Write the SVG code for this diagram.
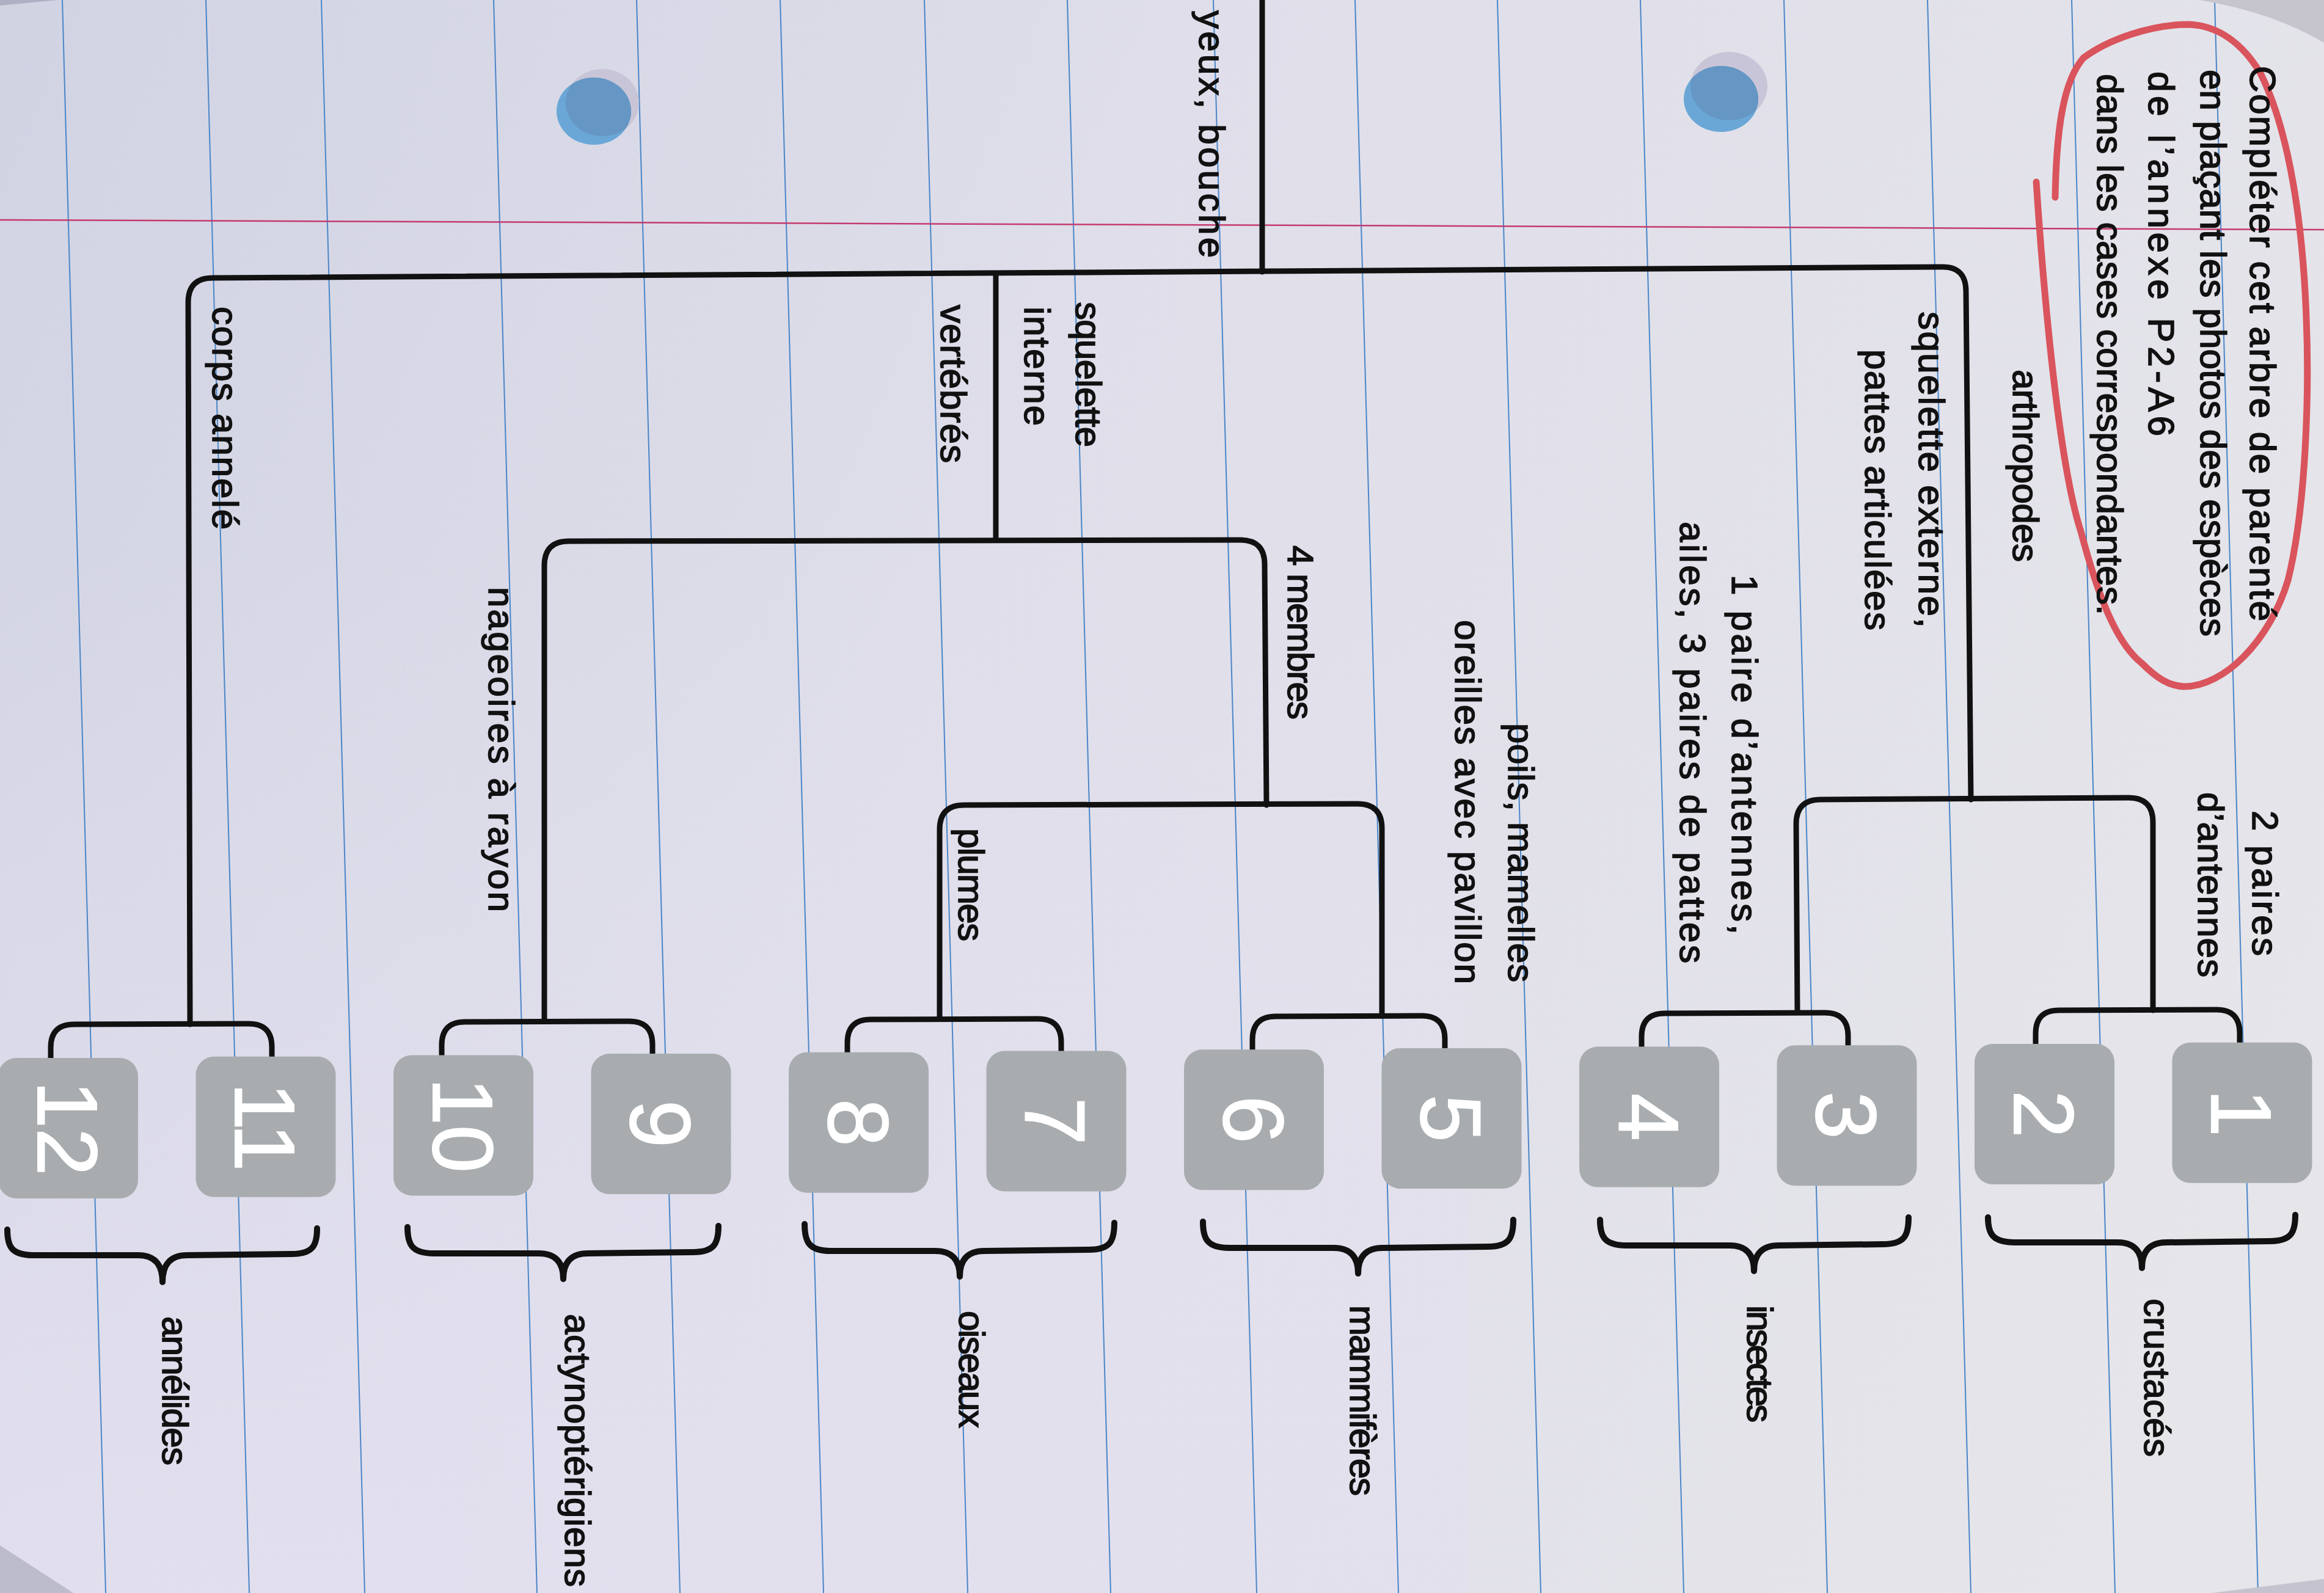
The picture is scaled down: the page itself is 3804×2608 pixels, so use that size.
<svg xmlns="http://www.w3.org/2000/svg" width="3804" height="2608" viewBox="0 0 3804 2608">
<defs>
<linearGradient id="paper" gradientUnits="userSpaceOnUse" x1="0" y1="0" x2="3804" y2="1600">
<stop offset="0" stop-color="#d1d3e3"/>
<stop offset="0.45" stop-color="#dfdeea"/>
<stop offset="1" stop-color="#e5e5ea"/>
</linearGradient>
<linearGradient id="lav" gradientUnits="userSpaceOnUse" x1="0" y1="900" x2="0" y2="2608">
<stop offset="0" stop-color="#e3e0ef" stop-opacity="0"/>
<stop offset="1" stop-color="#e3e0ef" stop-opacity="0.8"/>
</linearGradient>
<clipPath id="dot1"><ellipse cx="972" cy="182" rx="61" ry="55"/></clipPath>
<clipPath id="dot2"><ellipse cx="2817" cy="162" rx="61" ry="54"/></clipPath>
<style>
.ln{fill:none;stroke:#111;stroke-width:9;stroke-linecap:round;stroke-linejoin:round}
.br{fill:none;stroke:#111;stroke-width:10;stroke-linecap:round;stroke-linejoin:round}
.rule{stroke:#4a86c8;stroke-width:2}
.lbl{font-family:"Liberation Sans",Arial,sans-serif;font-size:60px;fill:#111;stroke:#111;stroke-width:1.6}
.num{font-family:"Liberation Sans",Arial,sans-serif;font-size:140px;fill:#fff;stroke:#fff;stroke-width:2;text-anchor:middle}
.box{fill:#a8acaf}
</style>
</defs>

<g id="paper-bg">
<rect x="0" y="0" width="3804" height="2608" fill="url(#paper)"/>
<rect x="0" y="900" width="2400" height="1708" fill="url(#lav)"/>
<g class="rule">
<line x1="102" y1="0" x2="173" y2="2608"/>
<line x1="337" y1="0" x2="408" y2="2608"/>
<line x1="526" y1="0" x2="597" y2="2608"/>
<line x1="808" y1="0" x2="879" y2="2608"/>
<line x1="1042" y1="0" x2="1113" y2="2608"/>
<line x1="1277" y1="0" x2="1348" y2="2608"/>
<line x1="1513" y1="0" x2="1584" y2="2608"/>
<line x1="1747" y1="0" x2="1818" y2="2608"/>
<line x1="1986" y1="0" x2="2057" y2="2608"/>
<line x1="2218" y1="0" x2="2289" y2="2608"/>
<line x1="2451" y1="0" x2="2522" y2="2608"/>
<line x1="2685" y1="0" x2="2756" y2="2608"/>
<line x1="2920" y1="0" x2="2991" y2="2608"/>
<line x1="3155" y1="0" x2="3226" y2="2608"/>
<line x1="3391" y1="0" x2="3462" y2="2608"/>
<line x1="3625" y1="0" x2="3696" y2="2608"/>
</g>
<line x1="0" y1="360" x2="3804" y2="376" stroke="#c43a6e" stroke-width="2.5"/>
<polygon points="0,0 95,0 0,9" fill="#aeb0c4"/>
<path d="M3600,0 L3804,0 L3804,70 Q3720,20 3600,0 Z" fill="#c6c5ce"/>
<polygon points="0,2530 0,2608 120,2608" fill="#bdbccc"/>
<polygon points="3620,2608 3804,2585 3804,2608" fill="#c4c3cf"/>
</g>

<g id="holes">
<ellipse cx="986" cy="168" rx="60" ry="55" fill="#c9c5d8"/>
<ellipse cx="972" cy="182" rx="61" ry="55" fill="#6aa7d6"/>
<ellipse cx="986" cy="168" rx="60" ry="55" fill="#6596c4" clip-path="url(#dot1)"/>
<ellipse cx="2830" cy="141" rx="63" ry="56" fill="#c9c5d8"/>
<ellipse cx="2817" cy="162" rx="61" ry="54" fill="#6aa7d6"/>
<ellipse cx="2830" cy="141" rx="63" ry="56" fill="#6596c4" clip-path="url(#dot2)"/>
</g>

<g id="instruction">
<path d="M3333,298 C3345,480 3370,760 3406,870 C3430,960 3460,1050 3506,1086 C3530,1110 3550,1123 3575,1124 C3640,1124 3715,1050 3745,950 C3775,830 3780,640 3775,520 C3770,380 3750,220 3700,120 C3670,70 3630,42 3583,40 C3520,40 3450,65 3410,95 C3380,130 3366,200 3364,323" fill="none" stroke="#d9545c" stroke-width="11" stroke-linecap="round"/>
<text class="lbl" transform="translate(3683,108) rotate(90)" textLength="909" lengthAdjust="spacing">Compléter cet arbre de parenté</text>
<text class="lbl" transform="translate(3602,114) rotate(90)" textLength="928" lengthAdjust="spacing">en plaçant les photos des espèces</text>
<text class="lbl" transform="translate(3517,117) rotate(90)" textLength="597" lengthAdjust="spacing">de l’annexe P2-A6</text>
<text class="lbl" transform="translate(3433,121) rotate(90)" textLength="886" lengthAdjust="spacing">dans les cases correspondantes.</text>
</g>

<g id="connectors">
<path class="ln" d="M2066,0 L2066,445"/>
<path class="ln" d="M311,1677 L308,495 Q308,455 348,455 L3180,437 Q3218,437 3218,477 L3226,1309"/>
<path class="ln" d="M1630,449 L1630,884"/>
<path class="ln" d="M891,1669 L891,926 Q891,886 931,886 L2030,884 Q2070,884 2070,924 L2073,1318"/>
<path class="ln" d="M1538,1666 L1538,1358 Q1538,1318 1578,1318 L2222,1316 Q2262,1316 2262,1356 L2262,1662"/>
<path class="ln" d="M2942,1656 L2940,1349 Q2940,1309 2980,1309 L3484,1306 Q3524,1306 3524,1346 L3524,1654"/>
<path class="ln" d="M83,1732 L83,1715 Q83,1677 121,1677 L407,1676 Q445,1676 445,1714 L445,1730"/>
<path class="ln" d="M723,1728 L723,1711 Q723,1673 761,1673 L1030,1672 Q1068,1672 1068,1710 L1068,1725"/>
<path class="ln" d="M1387,1723 L1387,1707 Q1387,1669 1425,1669 L1699,1668 Q1737,1668 1737,1706 L1737,1720"/>
<path class="ln" d="M2050,1718 L2050,1702 Q2050,1664 2088,1664 L2327,1663 Q2365,1663 2365,1701 L2365,1716"/>
<path class="ln" d="M2687,1714 L2687,1697 Q2687,1659 2725,1659 L2987,1658 Q3025,1658 3025,1696 L3025,1711"/>
<path class="ln" d="M3332,1709 L3332,1692 Q3332,1654 3370,1654 L3628,1653 Q3666,1653 3666,1691 L3666,1707"/>
</g>

<g id="braces">
<path class="br" d="M12,2013 C12,2040 18,2055 55,2055 L226,2055 Q266,2055 266,2099 Q266,2055 306,2055 L477,2053 C513,2053 519,2038 519,2011"/>
<path class="br" d="M667,2009 C667,2036 673,2052 710,2052 L882,2052 Q922,2052 922,2094 Q922,2052 962,2052 L1134,2050 C1170,2050 1176,2035 1176,2007"/>
<path class="br" d="M1317,2004 C1317,2032 1323,2048 1360,2048 L1531,2048 Q1571,2048 1571,2090 Q1571,2048 1611,2048 L1782,2046 C1818,2046 1824,2031 1824,2002"/>
<path class="br" d="M1969,2000 C1969,2027 1975,2043 2012,2043 L2183,2043 Q2223,2043 2223,2085 Q2223,2043 2263,2043 L2435,2041 C2471,2041 2477,2026 2477,1997"/>
<path class="br" d="M2619,1997 C2619,2023 2625,2039 2662,2039 L2831,2039 Q2871,2039 2871,2081 Q2871,2039 2911,2039 L3082,2037 C3118,2037 3124,2022 3124,1993"/>
<path class="br" d="M3254,1993 C3254,2018 3260,2034 3297,2034 L3466,2034 Q3506,2034 3506,2076 Q3506,2034 3546,2034 L3715,2032 C3751,2032 3757,2017 3757,1989"/>
</g>

<g id="branch-labels">
<text class="lbl" transform="translate(1963,17) rotate(90)" textLength="405" lengthAdjust="spacing">yeux, bouche</text>
<text class="lbl" transform="translate(348,502) rotate(90)" textLength="365" lengthAdjust="spacing">corps annelé</text>
<text class="lbl" transform="translate(1540,499) rotate(90)" textLength="259" lengthAdjust="spacing">vertébrés</text>
<text class="lbl" transform="translate(1761,494) rotate(90)" textLength="238" lengthAdjust="spacing">squelette</text>
<text class="lbl" transform="translate(1677,502) rotate(90)" textLength="195" lengthAdjust="spacing">interne</text>
<text class="lbl" transform="translate(800,961) rotate(90)" textLength="532" lengthAdjust="spacing">nageoires à rayon</text>
<text class="lbl" transform="translate(2108,893) rotate(90)" textLength="285" lengthAdjust="spacing">4 membres</text>
<text class="lbl" transform="translate(1569,1356) rotate(90)" textLength="185" lengthAdjust="spacing">plumes</text>
<text class="lbl" transform="translate(2469,1184) rotate(90)" textLength="424" lengthAdjust="spacing">poils, mamelles</text>
<text class="lbl" transform="translate(2382,1015) rotate(90)" textLength="596" lengthAdjust="spacing">oreilles avec pavillon</text>
<text class="lbl" transform="translate(3295,605) rotate(90)" textLength="315" lengthAdjust="spacing">arthropodes</text>
<text class="lbl" transform="translate(3141,510) rotate(90)" textLength="518" lengthAdjust="spacing">squelette externe,</text>
<text class="lbl" transform="translate(3053,572) rotate(90)" textLength="460" lengthAdjust="spacing">pattes articulées</text>
<text class="lbl" transform="translate(2835,941) rotate(90)" textLength="589" lengthAdjust="spacing">1 paire d’antennes,</text>
<text class="lbl" transform="translate(2750,854) rotate(90)" textLength="723" lengthAdjust="spacing">ailes, 3 paires de pattes</text>
<text class="lbl" transform="translate(3687,1327) rotate(90)" textLength="238" lengthAdjust="spacing">2 paires</text>
<text class="lbl" transform="translate(3598,1297) rotate(90)" textLength="303" lengthAdjust="spacing">d’antennes</text>
</g>

<g id="group-labels">
<text class="lbl" transform="translate(266,2155) rotate(90)" textLength="244" lengthAdjust="spacing">annélides</text>
<text class="lbl" transform="translate(925,2151) rotate(90)" textLength="447" lengthAdjust="spacing">actynoptérigiens</text>
<text class="lbl" transform="translate(1570,2146) rotate(90)" textLength="192" lengthAdjust="spacing">oiseaux</text>
<text class="lbl" transform="translate(2210,2137) rotate(90)" textLength="312" lengthAdjust="spacing">mammifères</text>
<text class="lbl" transform="translate(2860,2137) rotate(90)" textLength="192" lengthAdjust="spacing">insectes</text>
<text class="lbl" transform="translate(3510,2126) rotate(90)" textLength="259" lengthAdjust="spacing">crustacés</text>
</g>

<g id="box-12"><rect class="box" x="-3" y="1732" width="229" height="230" rx="30"/><text class="num" transform="translate(111.5,1847) rotate(90)" y="50">12</text></g>
<g id="box-11"><rect class="box" x="320.5" y="1729.7" width="229" height="230" rx="30"/><text class="num" transform="translate(435,1845) rotate(90)" y="50">11</text></g>
<g id="box-10"><rect class="box" x="644" y="1727.4" width="229" height="230" rx="30"/><text class="num" transform="translate(758.5,1842) rotate(90)" y="50">10</text></g>
<g id="box-9"><rect class="box" x="967.5" y="1725.1" width="229" height="230" rx="30"/><text class="num" transform="translate(1082,1840) rotate(90)" y="50">9</text></g>
<g id="box-8"><rect class="box" x="1291" y="1722.8" width="229" height="230" rx="30"/><text class="num" transform="translate(1405.5,1838) rotate(90)" y="50">8</text></g>
<g id="box-7"><rect class="box" x="1614.5" y="1720.5" width="229" height="230" rx="30"/><text class="num" transform="translate(1729,1835.5) rotate(90)" y="50">7</text></g>
<g id="box-6"><rect class="box" x="1938" y="1718.2" width="229" height="230" rx="30"/><text class="num" transform="translate(2052.5,1833) rotate(90)" y="50">6</text></g>
<g id="box-5"><rect class="box" x="2261.5" y="1715.9" width="229" height="230" rx="30"/><text class="num" transform="translate(2376,1831) rotate(90)" y="50">5</text></g>
<g id="box-4"><rect class="box" x="2585" y="1713.6" width="229" height="230" rx="30"/><text class="num" transform="translate(2699.5,1829) rotate(90)" y="50">4</text></g>
<g id="box-3"><rect class="box" x="2908.5" y="1711.3" width="229" height="230" rx="30"/><text class="num" transform="translate(3023,1826) rotate(90)" y="50">3</text></g>
<g id="box-2"><rect class="box" x="3232" y="1709" width="229" height="230" rx="30"/><text class="num" transform="translate(3346.5,1824) rotate(90)" y="50">2</text></g>
<g id="box-1"><rect class="box" x="3555.5" y="1706.7" width="229" height="230" rx="30"/><text class="num" transform="translate(3670,1822) rotate(90)" y="50">1</text></g>
</svg>
